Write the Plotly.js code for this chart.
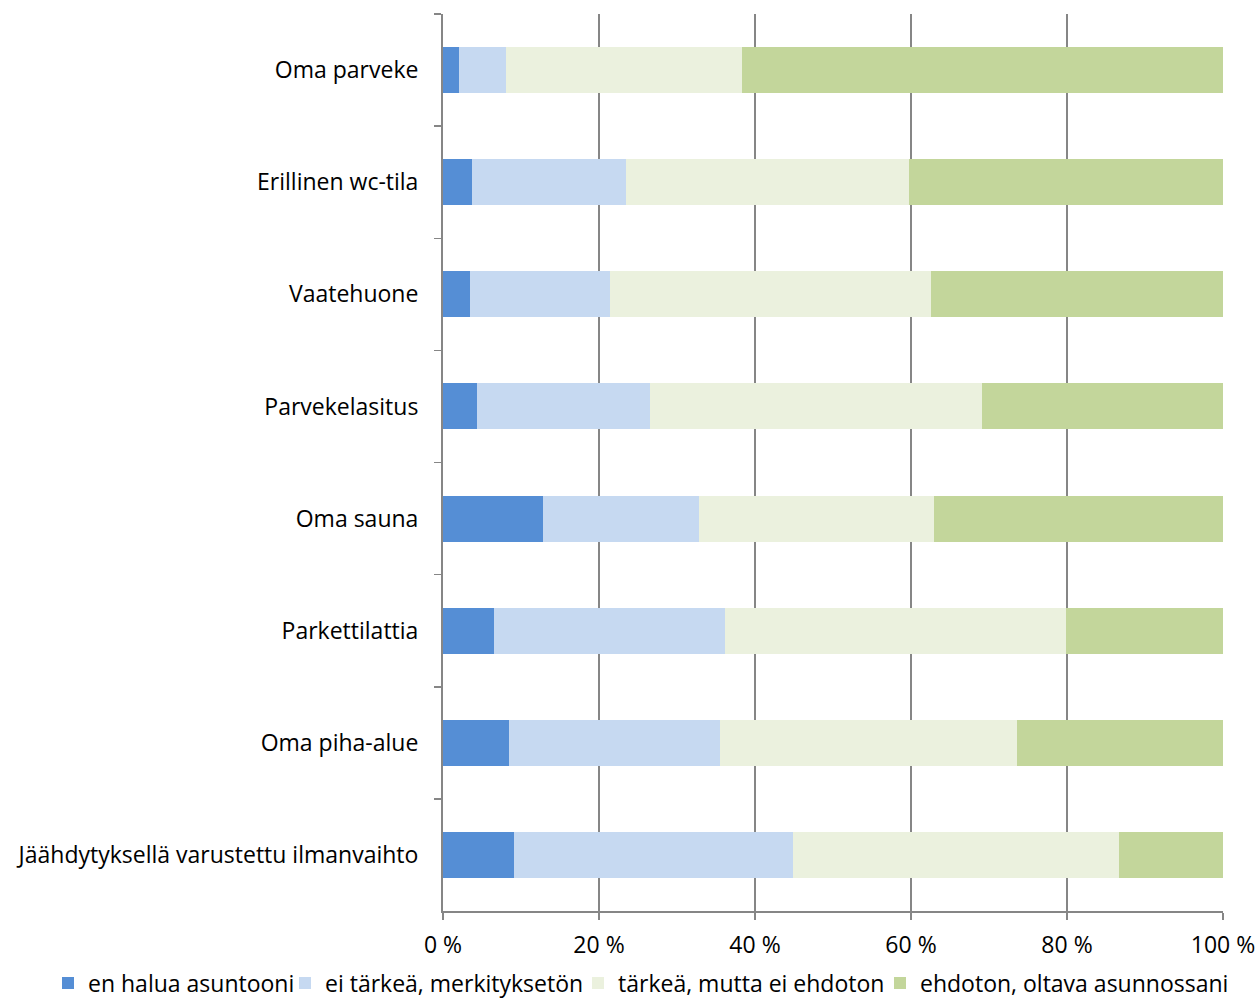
<!DOCTYPE html>
<html>
<head>
<meta charset="utf-8">
<script src="https://cdn.plot.ly/plotly-3.0.1.min.js"></script>
<style>body{margin:0;background:#fff;} #chart{width:1260px;height:1000px;}</style>
</head>
<body>
<div id="chart"></div>
<script>
const categories = ["Oma parveke","Erillinen wc-tila","Vaatehuone","Parvekelasitus","Oma sauna","Parkettilattia","Oma piha-alue","Jäähdytyksellä varustettu ilmanvaihto"];
const seriesNames = ["en halua asuntooni","ei tärkeä, merkityksetön","tärkeä, mutta ei ehdoton","ehdoton, oltava asunnossani"];
const enHalua = [2.0, 3.7, 3.5, 4.4, 12.8, 6.5, 8.5, 9.1];
const eiTarkea = [6.1, 19.7, 17.9, 22.1, 20.0, 29.7, 27.0, 35.8];
const tarkea = [30.2, 36.3, 41.1, 42.6, 30.2, 43.7, 38.1, 41.8];
const ehdoton = [61.7, 40.3, 37.5, 30.9, 37.0, 20.1, 26.4, 13.3];
const colors = ["#558ED5","#C6D9F1","#EBF1DE","#C3D69B"];

const legendIds = ["legend","legend2","legend3","legend4"];
const legendTextStart = [90, 327, 620, 922];

const allValues = [enHalua, eiTarkea, tarkea, ehdoton];
const traces = allValues.map((vals, i) => ({
  type: "bar",
  orientation: "h",
  name: seriesNames[i],
  y: categories,
  x: vals,
  legend: legendIds[i],
  marker: {color: colors[i], line: {width: 0}},
  hoverinfo: "x+y+name"
}));

const font = {family: "'Open Sans', sans-serif", size: 23, color: "#000"};
const layout = {
  width: 1260, height: 1000,
  barmode: "stack",
  bargap: 0.59,
  paper_bgcolor: "#fff",
  plot_bgcolor: "#fff",
  font: font,
  margin: {l: 443, r: 37, t: 14, b: 89, pad: 0},
  xaxis: {
    range: [0, 100],
    dtick: 20,
    tick0: 0,
    ticksuffix: " %",
    showgrid: true,
    gridcolor: "#868686",
    gridwidth: 1.5,
    zeroline: false,
    showline: true,
    linecolor: "#868686",
    linewidth: 1.5,
    ticks: "outside",
    ticklen: 7,
    tickcolor: "#868686",
    tickwidth: 1.5,
    tickfont: font,
    ticklabelstandoff: 6,
    automargin: false,
    fixedrange: true
  },
  yaxis: {
    type: "category",
    categoryorder: "array",
    categoryarray: categories,
    autorange: "reversed",
    showline: true,
    linecolor: "#868686",
    linewidth: 2,
    ticks: "outside",
    tickson: "boundaries",
    ticklen: 7,
    tickcolor: "#868686",
    tickwidth: 1.5,
    showgrid: false,
    tickfont: font,
    ticklabelstandoff: 18,
    automargin: false,
    fixedrange: true
  },
  showlegend: true
};

legendIds.forEach((id, i) => {
  layout[id] = {
    orientation: "h",
    xref: "container", x: (legendTextStart[i] - 42) / 1260, xanchor: "left",
    yref: "container", y: 0.017, yanchor: "middle",
    font: font,
    itemwidth: 30,
    bgcolor: "rgba(0,0,0,0)"
  };
});

Plotly.newPlot("chart", traces, layout, {displayModeBar: false, staticPlot: true});
</script>
</body>
</html>
